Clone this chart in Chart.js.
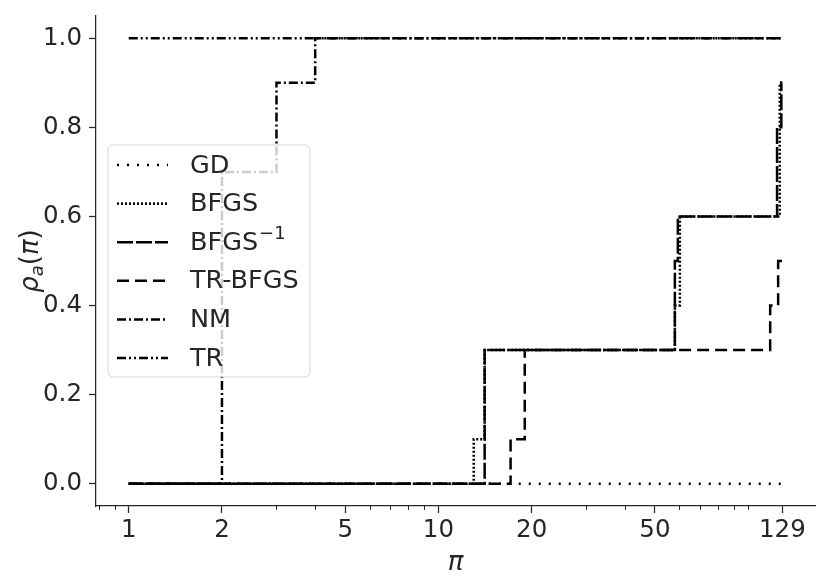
<!DOCTYPE html>
<html>
<head>
<meta charset="utf-8">
<script src="https://cdn.jsdelivr.net/npm/chart.js@4"></script>
<style>
  html, body { margin: 0; padding: 0; background: #fff; }
  #wrap { width: 831px; height: 585px; }
</style>
</head>
<body>
<div id="wrap"><canvas id="profile" width="831" height="585"></canvas></div>
<script>
// performance profile data (tau = performance ratio, rho = fraction of problems)
const tauTicks = [1, 2, 5, 10, 20, 50, 129];
const tauMinor = [0.8, 0.9, 3, 4, 6, 7, 8, 9, 30, 40, 60, 70, 80, 90, 100];
const rhoTicks = [0, 0.2, 0.4, 0.6, 0.8, 1.0];

const solvers = ['GD', 'BFGS', 'BFGS^-1', 'TR-BFGS', 'NM', 'TR'];

const gdTau = [1, 129];
const gdRho = [0, 0];
const bfgsTau = [1, 13.0, 14.1, 58, 60.2, 126.5, 129];
const bfgsRho = [0, 0.1, 0.3, 0.4, 0.6, 0.9, 0.9];
const bfgsInvTau = [1, 14.1, 58, 59.3, 124, 128, 129];
const bfgsInvRho = [0, 0.3, 0.5, 0.6, 0.8, 0.9, 0.9];
const trBfgsTau = [1, 17.1, 19.0, 117.8, 125, 129];
const trBfgsRho = [0, 0.1, 0.3, 0.4, 0.5, 0.5];
const nmTau = [1, 2, 3, 4, 129];
const nmRho = [0, 0.7, 0.9, 1.0, 1.0];
const trTau = [1, 129];
const trRho = [1.0, 1.0];

const seriesTau = [gdTau, bfgsTau, bfgsInvTau, trBfgsTau, nmTau, trTau];
const seriesRho = [gdRho, bfgsRho, bfgsInvRho, trBfgsRho, nmRho, trRho];
const dashes = [[2, 8], [2, 2], [16, 3], [12, 6], [9, 3, 2, 3], [9, 3, 2, 3, 2, 3]];

const INK = '#262626';
Chart.defaults.font.family = "'DejaVu Sans', sans-serif";
Chart.defaults.color = INK;

const toPoints = (xs, ys) => xs.map((x, i) => ({ x: x, y: ys[i] }));

const datasets = solvers.map((name, i) => ({
    label: name,
    data: toPoints(seriesTau[i], seriesRho[i]),
    showLine: true,
    stepped: 'before',
    borderColor: '#000',
    borderWidth: 2.5,
    borderDash: dashes[i],
    borderCapStyle: 'butt',
    pointRadius: 0,
    fill: false,
    order: solvers.length - i
}));

// axis titles, minor ticks and the in-plot legend
const overlay = {
    id: 'overlay',
    afterDraw(chart) {
        const ctx = chart.ctx;
        const xs = chart.scales.x;
        const area = chart.chartArea;

        // minor ticks on the log axis
        ctx.save();
        ctx.strokeStyle = INK;
        ctx.lineWidth = 1;
        tauMinor.forEach(v => {
            const px = Math.round(xs.getPixelForValue(v)) + 0.5;
            ctx.beginPath();
            ctx.moveTo(px, area.bottom);
            ctx.lineTo(px, area.bottom + 4);
            ctx.stroke();
        });
        ctx.restore();

        // x title
        ctx.save();
        ctx.fillStyle = INK;
        ctx.textAlign = 'center';
        ctx.textBaseline = 'alphabetic';
        ctx.font = "italic 26px 'DejaVu Sans'";
        ctx.fillText('π', (area.left + area.right) / 2, 570);
        ctx.restore();

        // y title: rho_a(pi)
        ctx.save();
        ctx.translate(38, (area.top + area.bottom) / 2);
        ctx.rotate(-Math.PI / 2);
        ctx.fillStyle = INK;
        ctx.textBaseline = 'alphabetic';
        const parts = [
            { t: 'ρ', f: "italic 26px 'DejaVu Sans'", dy: 0 },
            { t: 'a', f: "italic 18px 'DejaVu Sans'", dy: 5 },
            { t: '(', f: "26px 'DejaVu Sans'", dy: 0 },
            { t: 'π', f: "italic 26px 'DejaVu Sans'", dy: 0 },
            { t: ')', f: "26px 'DejaVu Sans'", dy: 0 }
        ];
        let total = 0;
        parts.forEach(p => { ctx.font = p.f; p.w = ctx.measureText(p.t).width; total += p.w; });
        let cx = -total / 2;
        parts.forEach(p => { ctx.font = p.f; ctx.fillText(p.t, cx, p.dy); cx += p.w; });
        ctx.restore();

        // legend box
        const lx = 108, ly = 145, lw = 202, lh = 232, r = 5;
        ctx.save();
        ctx.beginPath();
        ctx.moveTo(lx + r, ly);
        ctx.arcTo(lx + lw, ly, lx + lw, ly + lh, r);
        ctx.arcTo(lx + lw, ly + lh, lx, ly + lh, r);
        ctx.arcTo(lx, ly + lh, lx, ly, r);
        ctx.arcTo(lx, ly, lx + lw, ly, r);
        ctx.closePath();
        ctx.fillStyle = 'rgba(255,255,255,0.8)';
        ctx.fill();
        ctx.strokeStyle = 'rgba(204,204,204,0.8)';
        ctx.lineWidth = 1;
        ctx.stroke();

        chart.data.datasets.forEach((ds, i) => {
            const y = 165 + i * 38.6;
            ctx.save();
            ctx.strokeStyle = ds.borderColor;
            ctx.lineWidth = ds.borderWidth;
            ctx.lineCap = 'butt';
            ctx.setLineDash(ds.borderDash);
            ctx.beginPath();
            ctx.moveTo(117, y);
            ctx.lineTo(168, y);
            ctx.stroke();
            ctx.restore();

            ctx.fillStyle = INK;
            ctx.textBaseline = 'middle';
            ctx.font = "25.5px 'DejaVu Sans'";
            const [base, sup] = ds.label.split('^');
            ctx.fillText(base, 190, y + 1);
            if (sup) {
                const w = ctx.measureText(base).width;
                ctx.font = "18px 'DejaVu Sans'";
                ctx.fillText(sup.replace('-', '−'), 190 + w + 1, y - 8);
            }
        });
        ctx.restore();
    }
};

new Chart(document.getElementById('profile'), {
    type: 'scatter',
    data: { datasets: datasets },
    options: {
        responsive: false,
        animation: false,
        layout: { padding: { top: 16, right: 16, left: 0, bottom: 0 } },
        plugins: { legend: { display: false }, tooltip: { enabled: false } },
        scales: {
            x: {
                type: 'logarithmic',
                min: 0.784,
                max: 164.4,
                afterBuildTicks: (scale) => { scale.ticks = tauTicks.map(v => ({ value: v })); },
                afterFit: (scale) => { scale.height = 79; scale.paddingLeft = 0; scale.paddingRight = 0; },
                ticks: {
                    autoSkip: false,
                    maxRotation: 0,
                    padding: 3,
                    color: INK,
                    font: { size: 24.5 },
                    callback: (v) => String(v)
                },
                grid: { drawOnChartArea: false, drawTicks: true, tickLength: 7, tickColor: INK, tickWidth: 1.25 },
                border: { display: true, color: INK, width: 1.25 }
            },
            y: {
                type: 'linear',
                min: -0.05,
                max: 1.05,
                afterBuildTicks: (scale) => { scale.ticks = rhoTicks.map(v => ({ value: v })); },
                afterFit: (scale) => { scale.width = 96; scale.paddingTop = 0; scale.paddingBottom = 0; },
                ticks: {
                    padding: 7,
                    color: INK,
                    font: { size: 24.5 },
                    callback: (v) => v.toFixed(1)
                },
                grid: { drawOnChartArea: false, drawTicks: true, tickLength: 7, tickColor: INK, tickWidth: 1.25 },
                border: { display: true, color: INK, width: 1.25 }
            }
        }
    },
    plugins: [overlay]
});
</script>
</body>
</html>
